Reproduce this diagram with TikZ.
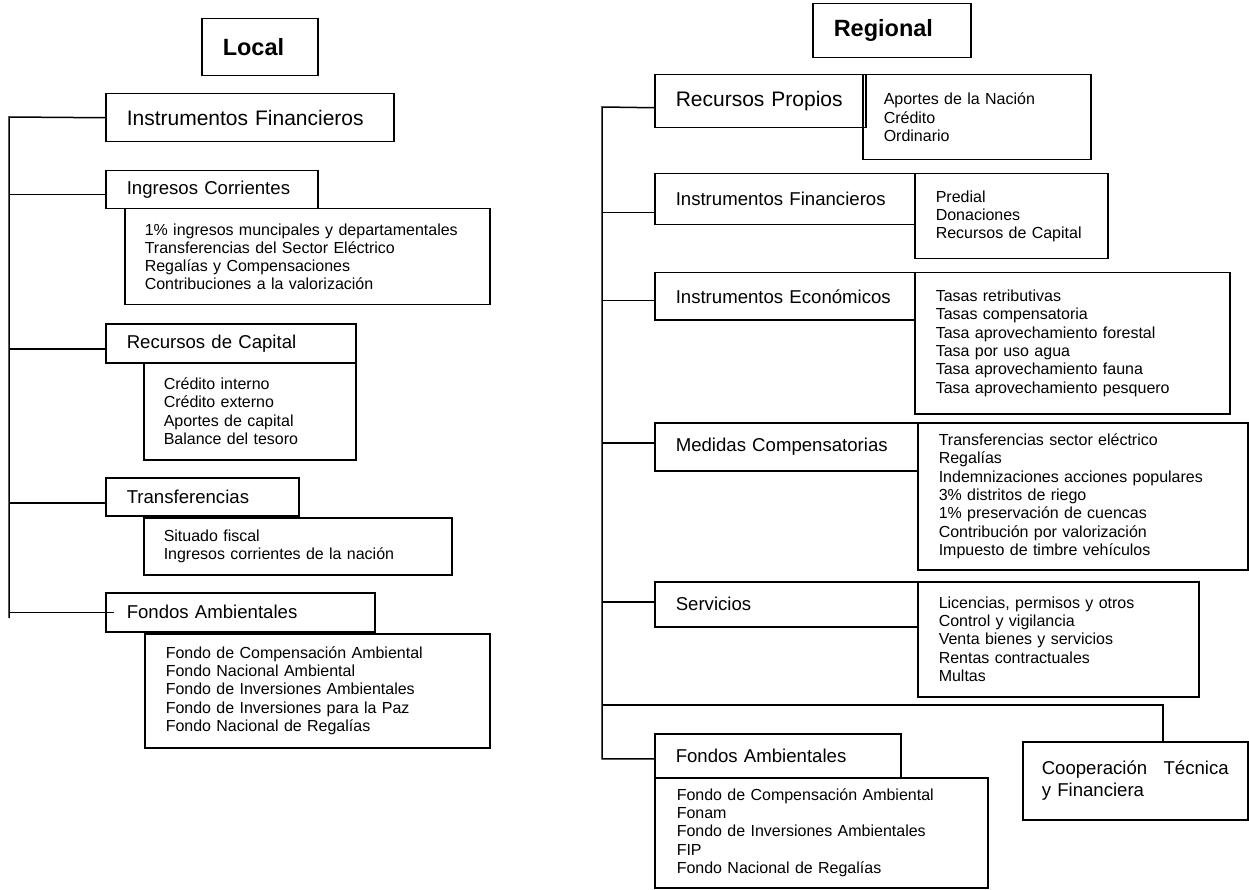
\documentclass[tikz,border=0pt]{standalone}
\usepackage{fontspec}
\setmainfont{Liberation Sans}

\newcommand{\titlesize}{\fontsize{23.5}{27}\selectfont}
\newcommand{\bigheadsize}{\fontsize{21}{24}\selectfont}
\newcommand{\headsize}{\fontsize{18.6}{21.6}\selectfont}
\newcommand{\listsize}{\fontsize{16}{18.3}\selectfont}

\tikzset{
  boxframe/.style={draw, line width=1.5pt, anchor=north west, align=left, inner ysep=0pt},
  titlebox/.style={boxframe, inner xsep=21pt, font=\titlesize\bfseries},
  headbox/.style={boxframe, inner xsep=21pt, font=\headsize},
  listbox/.style={boxframe, inner xsep=21pt, font=\listsize},
  link/.style={line width=1.5pt}
}

\begin{document}
\begin{tikzpicture}[x=1pt, y=-1pt]
        \useasboundingbox (0, 0) rectangle (1249, 890);

        % Nodes: local
        \node (local) [titlebox, text width=74pt, minimum height=57pt] at (201, 18) {Local};
        \node (lif) [headbox, font=\bigheadsize, text width=246pt, minimum height=48pt] at (105, 93) {Instrumentos Financieros};
        \node (lic) [headbox, text width=170pt, minimum height=38pt] at (105, 170) {Ingresos Corrientes};
        \node (lic-sub) [listbox, inner xsep=20pt, text width=325pt, minimum height=96pt] at (124, 208) {1\% ingresos muncipales y departamentales\\Transferencias del Sector Eléctrico\\Regalías y Compensaciones\\Contribuciones a la valorización};
        \node (lrc) [headbox, text width=208pt, minimum height=39pt] at (105, 323) {Recursos de Capital};
        \node (lrc-sub) [listbox, inner xsep=20pt, text width=172pt, minimum height=97pt] at (143, 362) {Crédito interno\\Crédito externo\\Aportes de capital\\Balance del tesoro};
        \node (ltr) [headbox, text width=151pt, minimum height=38pt] at (105, 477) {Transferencias};
        \node (ltr-sub) [listbox, inner xsep=20pt, text width=268pt, minimum height=57pt] at (143, 517) {Situado fiscal\\Ingresos corrientes de la nación};
        \node (lfa) [headbox, text width=227pt, minimum height=39pt] at (105, 592) {Fondos Ambientales};
        \node (lfa-sub) [listbox, text width=303pt, minimum height=114pt] at (144, 633) {Fondo de Compensación Ambiental\\Fondo Nacional Ambiental\\Fondo de Inversiones Ambientales\\Fondo de Inversiones para la Paz\\Fondo Nacional de Regalías};

        % Nodes: regional
        \node (regional) [titlebox, text width=116pt, minimum height=54pt] at (812, 3) {Regional};
        \node (rrp-sub) [listbox, text width=186pt, minimum height=85pt] at (862, 74) {Aportes de la Nación\\Crédito\\Ordinario};
        \node (rrp) [headbox, font=\bigheadsize, text width=169pt, minimum height=53pt] at (654, 74) {Recursos Propios};
        \node (rif) [headbox, text width=218pt, minimum height=51pt] at (654, 173) {Instrumentos Financieros};
        \node (rif-sub) [listbox, text width=151pt, minimum height=85pt] at (914, 173) {Predial\\Donaciones\\Recursos de Capital};
        \node (rie) [headbox, text width=218pt, minimum height=47pt] at (654, 272) {Instrumentos Económicos};
        \node (rie-sub) [listbox, text width=273pt, minimum height=141pt] at (914, 272) {Tasas retributivas\\Tasas compensatoria\\Tasa aprovechamiento forestal\\Tasa por uso agua\\Tasa aprovechamiento fauna\\Tasa aprovechamiento pesquero};
        \node (rmc) [headbox, text width=221pt, minimum height=48pt] at (654, 422) {Medidas Compensatorias};
        \node (rmc-sub) [listbox, text width=288pt, minimum height=147pt] at (917, 422) {Transferencias sector eléctrico\\Regalías\\Indemnizaciones acciones populares\\3\% distritos de riego\\1\% preservación de cuencas\\Contribución por valorización\\Impuesto de timbre vehículos};
        \node (rsv) [headbox, text width=221pt, minimum height=45pt] at (654, 581) {Servicios};
        \node (rsv-sub) [listbox, text width=239pt, minimum height=115pt] at (917, 581) {Licencias, permisos y otros\\Control y vigilancia\\Venta bienes y servicios\\Rentas contractuales\\Multas};
        \node (rfa) [headbox, text width=204pt, minimum height=44pt] at (654, 733) {Fondos Ambientales};
        \node (rfa-sub) [listbox, inner xsep=22pt, text width=289pt, minimum height=110pt] at (654, 777) {Fondo de Compensación Ambiental\\Fonam\\Fondo de Inversiones Ambientales\\FIP\\Fondo Nacional de Regalías};
        \node (coop) [headbox, inner xsep=19pt, text width=187pt, minimum height=78pt] at (1022, 741) {Cooperación\hfill Técnica\\y Financiera};

        % Edges: local
        \coordinate (ltop) at (9, 117);
        \coordinate (lbot) at (9, 618);
        \coordinate (lic-in) at ([yshift=-5pt]lic.west);
        \coordinate (lrc-in) at ([yshift=-5.5pt]lrc.west);
        \coordinate (ltr-in) at ([yshift=-6pt]ltr.west);
        \coordinate (lfa-in) at ([xshift=9pt]lfa.west);
        \draw[link] (lif.west) -- (ltop) -- (lbot);
        \draw[link] (lic-in) -- (lic-in -| ltop);
        \draw[link] (lrc-in) -- (lrc-in -| ltop);
        \draw[link] (ltr-in) -- (ltr-in -| ltop);
        \draw[link] (lfa-in) -- (lfa-in -| ltop);

        % Edges: regional
        \coordinate (rrp-in) at ([yshift=-6.5pt]rrp.west);
        \coordinate (rif-in) at ([yshift=-13.5pt]rif.west);
        \coordinate (rie-in) at ([yshift=-4.5pt]rie.west);
        \coordinate (rmc-in) at ([yshift=4pt]rmc.west);
        \coordinate (rsv-in) at ([yshift=2.5pt]rsv.west);
        \coordinate (rfa-in) at ([yshift=-3pt]rfa.west);
        \coordinate (rtop) at (602, 107);
        \coordinate (rcoop) at (1163, 705);
        \draw[link] (rrp-in) -- (rtop) -- (rtop |- rfa-in) -- (rfa-in);
        \draw[link] (rif-in) -- (rif-in -| rtop);
        \draw[link] (rie-in) -- (rie-in -| rtop);
        \draw[link] (rmc-in) -- (rmc-in -| rtop);
        \draw[link] (rsv-in) -- (rsv-in -| rtop);
        \draw[link] (rcoop -| rtop) -- (rcoop) -- (rcoop |- coop.north);
    \end{tikzpicture}
\end{document}
